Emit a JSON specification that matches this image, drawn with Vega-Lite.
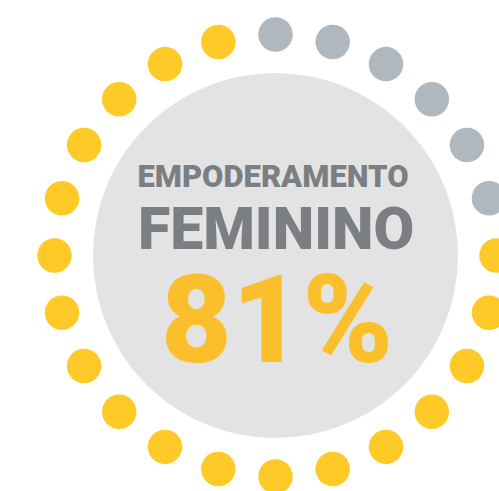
{
  "$schema": "https://vega.github.io/schema/vega-lite/v6.json",
  "width": 499,
  "height": 491,
  "autosize": "none",
  "padding": 0,
  "background": "#ffffff",
  "config": {"view": {"stroke": null}},
  "layer": [
    {
      "data": {"values": [{"x": 275.5, "y": 255.5}]},
      "mark": {"type": "point", "shape": "circle", "filled": true, "size": 133225, "color": "#e3e3e3", "opacity": 1},
      "encoding": {
        "x": {"field": "x", "type": "quantitative", "scale": {"domain": [0, 499], "nice": false, "zero": false}, "axis": null},
        "y": {"field": "y", "type": "quantitative", "scale": {"domain": [0, 491], "nice": false, "zero": false, "reverse": true}, "axis": null}
      }
    },
    {
      "data": {"values": [
        {"x": 275.5, "y": 34.5, "status": "rest"},
        {"x": 332.7, "y": 42.0, "status": "rest"},
        {"x": 386.0, "y": 64.1, "status": "rest"},
        {"x": 431.8, "y": 99.2, "status": "rest"},
        {"x": 466.9, "y": 145.0, "status": "rest"},
        {"x": 489.0, "y": 198.3, "status": "rest"},
        {"x": 496.5, "y": 255.5, "status": "share"},
        {"x": 489.0, "y": 312.7, "status": "share"},
        {"x": 466.9, "y": 366.0, "status": "share"},
        {"x": 431.8, "y": 411.8, "status": "share"},
        {"x": 386.0, "y": 446.9, "status": "share"},
        {"x": 332.7, "y": 469.0, "status": "share"},
        {"x": 275.5, "y": 476.5, "status": "share"},
        {"x": 218.3, "y": 469.0, "status": "share"},
        {"x": 165.0, "y": 446.9, "status": "share"},
        {"x": 119.2, "y": 411.8, "status": "share"},
        {"x": 84.1, "y": 366.0, "status": "share"},
        {"x": 62.0, "y": 312.7, "status": "share"},
        {"x": 54.5, "y": 255.5, "status": "share"},
        {"x": 62.0, "y": 198.3, "status": "share"},
        {"x": 84.1, "y": 145.0, "status": "share"},
        {"x": 119.2, "y": 99.2, "status": "share"},
        {"x": 165.0, "y": 64.1, "status": "share"},
        {"x": 218.3, "y": 42.0, "status": "share"}
      ]},
      "mark": {"type": "point", "shape": "circle", "filled": true, "size": 1190, "opacity": 1},
      "encoding": {
        "x": {"field": "x", "type": "quantitative"},
        "y": {"field": "y", "type": "quantitative"},
        "color": {"field": "status", "type": "nominal", "scale": {"domain": ["share", "rest"], "range": ["#ffca28", "#aeb8be"]}, "legend": null}
      }
    },
    {
      "data": {"values": [{"x": 273, "y": 187, "label": "EMPODERAMENTO"}]},
      "mark": {"type": "text", "font": "Roboto", "fontWeight": 900, "fontSize": 31, "color": "#7b7f83", "align": "center", "baseline": "alphabetic"},
      "encoding": {
        "x": {"field": "x", "type": "quantitative"},
        "y": {"field": "y", "type": "quantitative"},
        "text": {"field": "label"}
      }
    },
    {
      "data": {"values": [{"x": 276, "y": 249, "label": "FEMININO"}]},
      "mark": {"type": "text", "font": "Roboto", "fontWeight": 900, "fontSize": 59, "color": "#7b7f83", "align": "center", "baseline": "alphabetic"},
      "encoding": {
        "x": {"field": "x", "type": "quantitative"},
        "y": {"field": "y", "type": "quantitative"},
        "text": {"field": "label"}
      }
    },
    {
      "data": {"values": [{"x": 277, "y": 362, "label": "81%"}]},
      "mark": {"type": "text", "font": "Roboto", "fontWeight": 900, "fontSize": 122, "color": "#fbbf2b", "align": "center", "baseline": "alphabetic"},
      "encoding": {
        "x": {"field": "x", "type": "quantitative"},
        "y": {"field": "y", "type": "quantitative"},
        "text": {"field": "label"}
      }
    }
  ]
}
